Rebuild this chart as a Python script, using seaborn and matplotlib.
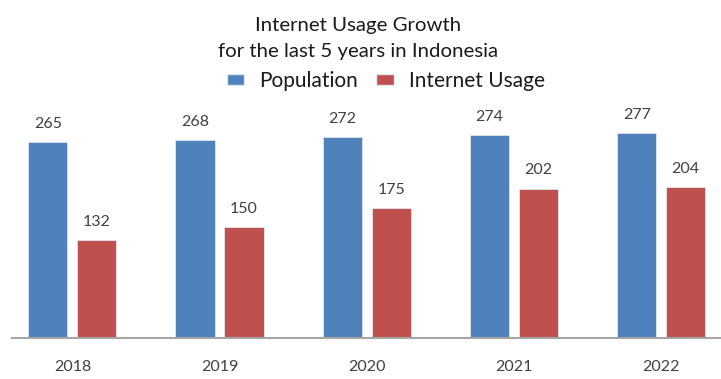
import matplotlib
matplotlib.use("Agg")
import matplotlib.pyplot as plt
import seaborn as sns
import pandas as pd
from matplotlib.patches import Patch

years = ["2018", "2019", "2020", "2021", "2022"]
population = [265, 268, 272, 274, 277]
internet_usage = [132, 150, 175, 202, 204]
series_names = ["Population", "Internet Usage"]
colors = ["#4F81BD", "#C0504D"]

df = pd.DataFrame({
    "Year": years * 2,
    "Value": population + internet_usage,
    "Series": [series_names[0]] * len(years) + [series_names[1]] * len(years),
})

sns.set_theme(style="white")
plt.rcParams["font.family"] = ["Lato", "DejaVu Sans"]

fig = plt.figure(figsize=(7.21, 3.79), dpi=100)
ax = fig.add_axes([12 / 721, 41 / 379, 708 / 721, 238 / 379])

sns.barplot(data=df, x="Year", y="Value", hue="Series", palette=colors,
            width=0.665, gap=0.2, ax=ax, legend=False,
            edgecolor="#dfe6f0", linewidth=0.6, saturation=1)

for cont in ax.containers:
    ax.bar_label(cont, padding=8, fontsize=11.5, color="#404040")

ax.set_xlim(-0.41, 4.4)
ax.set_ylim(0, 321.6)
for s in ["top", "right", "left"]:
    ax.spines[s].set_visible(False)
ax.spines["bottom"].set_color("#A6A6A6")
ax.spines["bottom"].set_linewidth(1.5)
ax.set_yticks([])
ax.set_xlabel("")
ax.set_ylabel("")
ax.tick_params(axis="x", length=0, pad=16, labelsize=11.5, labelcolor="#404040")

fig.text(0.497, 0.898, "Internet Usage Growth\nfor the last 5 years in Indonesia",
         ha="center", va="center", fontsize=14.7, color="#1a1a1a", linespacing=1.6)

handles = [Patch(facecolor=c, edgecolor="#dfe6f0") for c in colors]
fig.legend(handles, series_names, loc="center", bbox_to_anchor=(0.535, 0.786),
           ncol=2, frameon=False, fontsize=15, handlelength=0.85, handleheight=0.45,
           handletextpad=0.7, columnspacing=0.9, labelcolor="#1a1a1a",
           borderpad=0, borderaxespad=0)

fig.savefig("out.png", dpi=100)
